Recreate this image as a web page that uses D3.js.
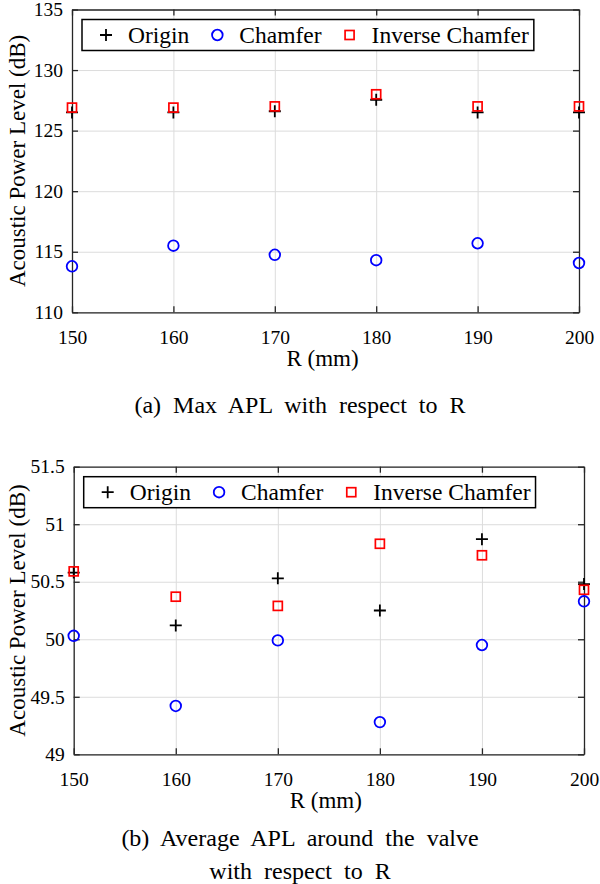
<!DOCTYPE html>
<html><head><meta charset="utf-8">
<script src="https://cdn.jsdelivr.net/npm/d3@7"></script>
<style>
body{margin:0;background:#fff;}
svg{display:block;font-family:"Liberation Serif","Times New Roman",serif;}
</style></head>
<body>
<svg id="c" width="600" height="884"></svg>
<script>
// ---- data ----
const radii = [150, 160, 170, 180, 190, 200];
const seriesNames = ["Origin", "Chamfer", "Inverse Chamfer"];

const maxOrigin   = [126.5, 126.5, 126.6, 127.55, 126.5, 126.5];
const maxChamfer  = [113.8, 115.5, 114.75, 114.3, 115.7, 114.07];
const maxInverse  = [126.9, 126.9, 127.0, 128.0, 127.0, 127.0];

const avgOrigin   = [50.58, 50.12, 50.53, 50.25, 50.87, 50.48];
const avgChamfer  = [50.03, 49.42, 49.99, 49.28, 49.95, 50.33];
const avgInverse  = [50.59, 50.37, 50.29, 50.83, 50.73, 50.43];

const xTicks = [150, 160, 170, 180, 190, 200];
const yTicksMax = [110, 115, 120, 125, 130, 135];
const yTicksAvg = [49, 49.5, 50, 50.5, 51, 51.5];

const yLabel = "Acoustic Power Level (dB)";
const xLabel = "R (mm)";
const captionA = ["(a) Max APL with respect to R"];
const captionB = ["(b) Average APL around the valve", "with respect to R"];

const svg = d3.select("#c");
const AX = "#262626", GRID = "#dcdcdc";

function drawMarker(g, type, x, y) {
  if (type === 0) {
    g.append("path").attr("d", `M${x-6},${y}H${x+6}M${x},${y-6}V${y+6}`)
      .attr("stroke", "#000").attr("stroke-width", 1.8).attr("fill", "none");
  } else if (type === 1) {
    g.append("circle").attr("cx", x).attr("cy", y).attr("r", 5.3)
      .attr("stroke", "#0000ff").attr("stroke-width", 1.8).attr("fill", "none");
  } else {
    g.append("rect").attr("x", x-4.5).attr("y", y-4.5).attr("width", 9).attr("height", 9)
      .attr("stroke", "#ff0000").attr("stroke-width", 1.7).attr("fill", "none");
  }
}

function panel(cfg) {
  const g = svg.append("g");
  const x = d3.scaleLinear().domain([150, 200]).range([cfg.left, cfg.right]);
  const y = d3.scaleLinear().domain(cfg.ydom).range([cfg.bottom, cfg.top]);
  const W = cfg.right - cfg.left, H = cfg.bottom - cfg.top;

  // grid
  g.append("g").attr("transform", `translate(0,${cfg.bottom})`)
    .call(d3.axisBottom(x).tickValues(xTicks).tickSize(-H).tickFormat(""))
    .call(a => { a.select(".domain").remove(); a.selectAll("line").attr("stroke", GRID).attr("stroke-width", 1); });
  g.append("g").attr("transform", `translate(${cfg.left},0)`)
    .call(d3.axisLeft(y).tickValues(cfg.yticks).tickSize(-W).tickFormat(""))
    .call(a => { a.select(".domain").remove(); a.selectAll("line").attr("stroke", GRID).attr("stroke-width", 1); });

  // axes with inward ticks
  const fmt = d => String(d);
  const styleAxis = a => {
    a.select(".domain").attr("stroke", AX).attr("stroke-width", 1.3);
    a.selectAll("line").attr("stroke", AX).attr("stroke-width", 1.3);
    a.selectAll("text").attr("fill", "#000").attr("font-size", 19.5)
      .attr("font-family", '"Liberation Serif","Times New Roman",serif');
  };
  g.append("g").attr("transform", `translate(0,${cfg.bottom})`)
    .call(d3.axisBottom(x).tickValues(xTicks).tickSizeInner(-6).tickSizeOuter(0).tickPadding(18).tickFormat(fmt))
    .call(styleAxis);
  g.append("g").attr("transform", `translate(0,${cfg.top})`)
    .call(d3.axisTop(x).tickValues(xTicks).tickSizeInner(-6).tickSizeOuter(0).tickFormat(""))
    .call(styleAxis);
  g.append("g").attr("transform", `translate(${cfg.left},0)`)
    .call(d3.axisLeft(y).tickValues(cfg.yticks).tickSizeInner(-6).tickSizeOuter(0).tickPadding(9).tickFormat(fmt))
    .call(styleAxis);
  g.append("g").attr("transform", `translate(${cfg.right},0)`)
    .call(d3.axisRight(y).tickValues(cfg.yticks).tickSizeInner(-6).tickSizeOuter(0).tickFormat(""))
    .call(styleAxis);

  // data
  const sets = [cfg.origin, cfg.chamfer, cfg.inverse];
  [0, 2, 1].forEach(t => {
    sets[t].forEach((v, i) => drawMarker(g, t, x(radii[i]), y(v)));
  });

  // axis labels
  g.append("text").attr("x", (cfg.left + cfg.right) / 2 - 3).attr("y", cfg.bottom + 54)
    .attr("text-anchor", "middle").attr("font-size", 23).text(xLabel);
  g.append("text").attr("transform", `translate(25,${(cfg.top + cfg.bottom) / 2}) rotate(-90)`)
    .attr("text-anchor", "middle").attr("font-size", 23).text(yLabel);

  // legend
  const lg = g.append("g");
  const lx = cfg.left + 10, ly = cfg.top + 10, lh = 31;
  const box = lg.append("rect").attr("x", lx).attr("y", ly).attr("height", lh)
    .attr("fill", "#fff").attr("stroke", "#000").attr("stroke-width", 1.5);
  let cx = lx + 24;
  seriesNames.forEach((name, t) => {
    drawMarker(lg, t, cx, ly + lh / 2);
    const tx = lg.append("text").attr("x", cx + 22).attr("y", ly + lh / 2 + 8)
      .attr("font-size", 23.5).text(name);
    const w = tx.node().getComputedTextLength();
    cx = cx + 22 + w + 28;
  });
  box.attr("width", cx - 28 + 5 - lx);

  // caption
  cfg.caption.forEach((line, i) => {
    g.append("text").attr("x", 300).attr("y", cfg.capY + i * 33)
      .attr("text-anchor", "middle").attr("font-size", 24)
      .attr("word-spacing", 6).text(line);
  });
}

panel({left: 72, right: 579, top: 9.5, bottom: 312.3, ydom: [110, 135], yticks: yTicksMax,
       origin: maxOrigin, chamfer: maxChamfer, inverse: maxInverse, caption: captionA, capY: 413});
panel({left: 73.7, right: 584, top: 466.7, bottom: 754.3, ydom: [49, 51.5], yticks: yTicksAvg,
       origin: avgOrigin, chamfer: avgChamfer, inverse: avgInverse, caption: captionB, capY: 846});
</script>
</body></html>
